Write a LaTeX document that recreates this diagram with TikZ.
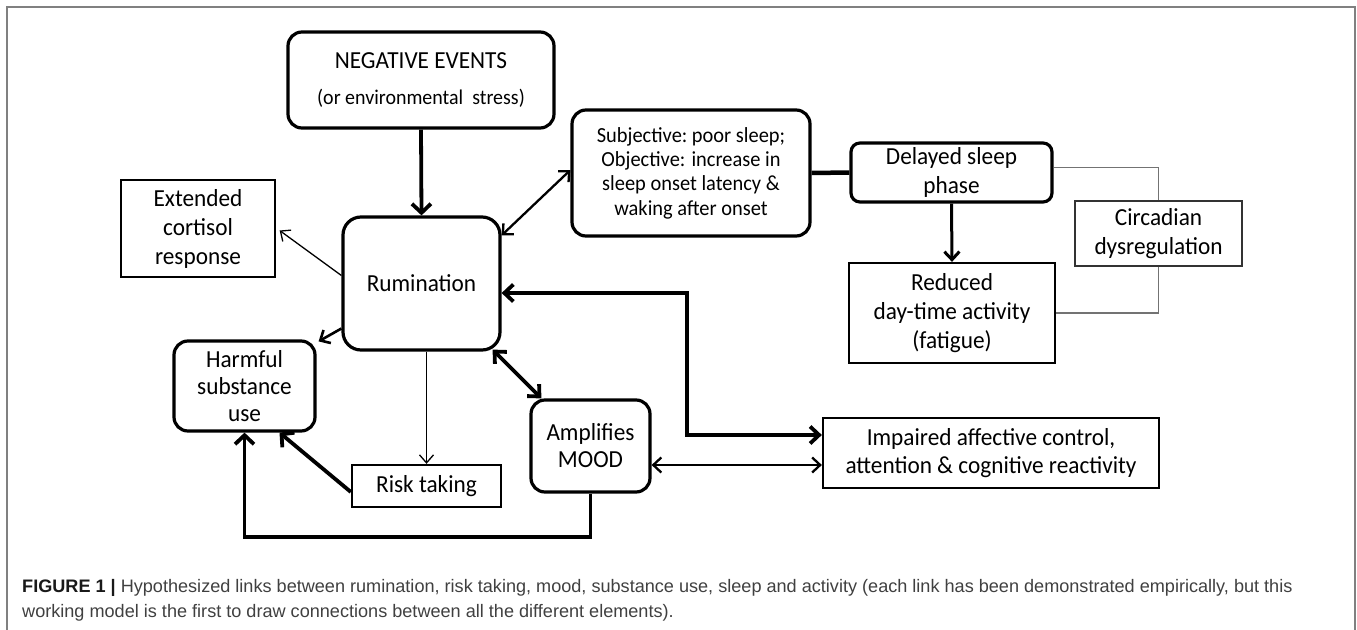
\documentclass[tikz,border=0pt]{standalone}
\usepackage{fontspec}
\setmainfont{Carlito}[FakeStretch=0.95]
\newfontfamily\capfont{Liberation Sans}
\usetikzlibrary{arrows.meta}
\begin{document}
\begin{tikzpicture}[x=1pt,y=-1pt,
  rbox/.style={draw, line width=3.2pt, rounded corners=14pt, align=center, inner sep=0pt},
  sbox/.style={draw, line width=1.3pt, align=center, inner sep=0pt},
  mbox/.style={draw, line width=2.3pt, align=center, inner sep=0pt},
  fa/.style={font=\fontsize{24.5}{29}\selectfont},
  fb/.style={font=\fontsize{24.5}{27}\selectfont},
  bigarr/.style={line width=3.8pt, arrows={-Straight Barb[length=9pt,width=19pt]}},
  bigdbl/.style={line width=3.8pt, arrows={Straight Barb[length=9pt,width=17pt]-Straight Barb[length=9pt,width=17pt]}},
  meddbl/.style={line width=2.3pt, arrows={Straight Barb[length=8pt,width=15pt]-Straight Barb[length=8pt,width=15pt]}},
  medarr/.style={line width=2.6pt, arrows={-Straight Barb[length=8pt,width=15pt]}},
  thinarr/.style={line width=1.3pt, arrows={-Straight Barb[length=8pt,width=14pt]}},
  grayline/.style={line width=1.4pt, draw=black!55},
  captext/.style={anchor=base west, inner sep=0pt, text=black!75, font=\capfont\fontsize{18.1}{20}\selectfont}
]
\useasboundingbox (0,0) rectangle (1357,629);
\draw[line width=1.3pt, draw=black!50] (7,640) -- (7,7) -- (1355,7) -- (1355,640);

% nodes
\node[rbox, fa, minimum width=266pt, minimum height=96pt] (neg) at (421,80)
  {NEGATIVE EVENTS\\[7pt]{\fontsize{21}{24}\selectfont (or environmental\ \ stress)}};
\node[rbox, fa, rounded corners=18pt, minimum width=157pt, minimum height=133pt] (rum) at (421.5,283.5) {Rumination};
\node[sbox, fa, minimum width=154pt, minimum height=97pt] (cort) at (198,228.5) {Extended\\cortisol\\response};
\node[rbox, font=\fontsize{21.5}{24.3}\selectfont, minimum width=238pt, minimum height=126pt] (subj) at (691,173)
  {Subjective:\ poor sleep;\\Objective: increase in\\sleep onset latency \&\\waking after onset};
\node[rbox, fa, rounded corners=9pt, minimum width=201pt, minimum height=59pt] (delay) at (951.5,172.5) {Delayed sleep\\phase};
\node[mbox, fa, minimum width=206pt, minimum height=100pt] (reduced) at (952,313) {Reduced\\day-time activity\\(fatigue)};
\node[sbox, fa, draw=black!80, minimum width=167pt, minimum height=65pt] (circ) at (1158.5,233.5) {Circadian\\dysregulation};
\node[mbox, font=\fontsize{24.5}{28}\selectfont, minimum width=336pt, minimum height=70pt] (imp) at (991,453) {Impaired affective control,\\attention \& cognitive reactivity};
\node[rbox, fb, minimum width=119pt, minimum height=92pt] (mood) at (590.5,446) {Amplifies\\MOOD};
\node[mbox, fa, minimum width=149pt, minimum height=42pt] (risk) at (426.5,486) {Risk taking};
\node[rbox, fb, minimum width=141pt, minimum height=90pt] (harm) at (244.5,386) {Harmful\\substance\\use};

% connectors
\coordinate (kink) at (687,435);
\coordinate (base) at (0,537);
\draw[bigarr] (neg.south) -- (rum.north);
\draw[thinarr] ([yshift=8pt]rum.west) -- ([xshift=4pt,yshift=-2pt]cort.east);
\draw[meddbl] ([yshift=-20pt]rum.north east) -- ([yshift=3pt]subj.west);
\draw[line width=4.5pt] (subj.east) -- (delay.west);
\draw[line width=3pt, arrows={-Straight Barb[length=8pt,width=15pt]}] (delay.south) -- (reduced.north);
\draw[grayline] ([yshift=5pt]delay.east) -| (circ.north);
\draw[grayline] (circ.south) |- (reduced.east);
\draw[bigdbl] ([yshift=-9.5pt]rum.east) -| (kink) -- ([yshift=18pt]imp.west);
\draw[meddbl] ([yshift=-19pt]mood.east) -- ([yshift=-12pt]imp.west);
\draw[bigdbl] ([xshift=-9pt,yshift=2pt]rum.south east) -- ([xshift=12pt]mood.north west);
\draw[thinarr] (risk.north |- rum.south) -- (risk.north);
\draw[bigarr] ([yshift=-6pt]risk.west) -- ([xshift=35pt]harm.south);
\draw[medarr] ([yshift=-45pt]rum.west) -- ([xshift=2pt,yshift=-2pt]harm.north east);
\draw[bigarr] (mood.south) -- (mood.south |- base) -- (harm.south |- base) -- (harm.south);

% caption
\node[captext] (cap1) at (22,592) {{\color{black!90}\textbf{FIGURE 1 |}} Hypothesized links between rumination, risk taking, mood, substance use, sleep and activity (each link has been demonstrated empirically, but this};
\node[captext] (cap2) at (22,617) {working model is the first to draw connections between all the different elements).};
\end{tikzpicture}
\end{document}
